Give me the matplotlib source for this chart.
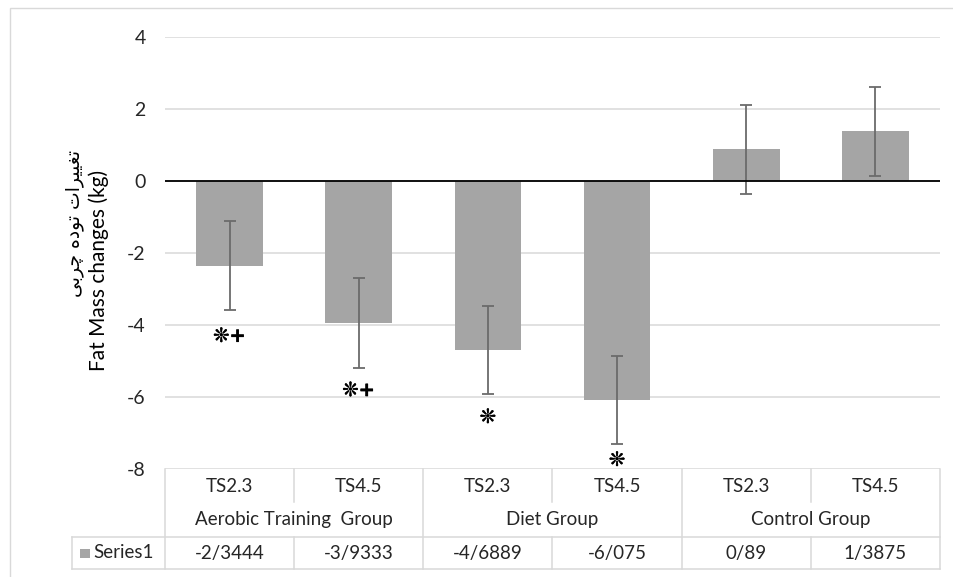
import matplotlib
matplotlib.use("Agg")
import matplotlib.pyplot as plt
import matplotlib.transforms as mtransforms
import matplotlib.patheffects as pe
from matplotlib.patches import Rectangle
from matplotlib.lines import Line2D

plt.rcParams['axes.unicode_minus'] = False
plt.rcParams['font.family'] = ['Lato', 'DejaVu Sans']

# ---- data ----
sub_labels = ["TS2.3", "TS4.5", "TS2.3", "TS4.5", "TS2.3", "TS4.5"]
group_labels = ["Aerobic Training  Group", "Diet Group", "Control Group"]
values = [-2.3444, -3.9333, -4.6889, -6.075, 0.89, 1.3875]
errors = [1.24, 1.24, 1.23, 1.23, 1.23, 1.23]
marks = ["\u274A+", "\u274A+", "\u274A", "\u274A", "", ""]
mark_offsets_px = [26, 23, 23, 16, 0, 0]
yticks = [-8, -6, -4, -2, 0, 2, 4]
series_name = "Series1"

# Persian axis title, shaped with presentation forms (logical order), then reversed for display
persian_logical = ("\uFE97\uFED0\uFEF4\uFEF4\uFEAE\uFE8D\uFE95" + " " +
                   "\uFE97\uFEEE\uFEA9\uFEE9" + " " +
                   "\uFB7C\uFEAE\uFE91\uFEF0")
persian_title = persian_logical[::-1]
english_title = "Fat Mass changes (kg)"

W, H = 954, 577
fig = plt.figure(figsize=(W / 100, H / 100), dpi=100)

def fx(px):
    return px / W

def fy(py):
    return 1 - py / H

# outer chart border
fig.patches.append(Rectangle((fx(10), fy(1000)), fx(1000), fy(8) - fy(1000),
                             transform=fig.transFigure, fill=False,
                             edgecolor='#D9D9D9', lw=1.0))

top_px, bot_px, left_px, right_px = 37.3, 469.3, 165, 940
ax = fig.add_axes([fx(left_px), fy(bot_px), fx(right_px - left_px), (bot_px - top_px) / H])
x = list(range(len(values)))
ax.bar(x, values, width=0.516, color='#A5A5A5', zorder=2)
ax.errorbar(x, values, yerr=errors, fmt='none', ecolor='#6B6B6B', elinewidth=1.3,
            capsize=4.5, capthick=1.3, zorder=3)
ax.set_xlim(-0.5, len(values) - 0.5)
ax.set_ylim(-8, 4)
ax.set_yticks(yticks)
ax.set_yticklabels([str(t) for t in yticks])
ax.set_xticks([])
for t in yticks:
    ax.axhline(t, color='#D9D9D9', lw=1.1, zorder=0)
ax.axhline(0, color='black', lw=1.3, zorder=4)
for s in ax.spines.values():
    s.set_visible(False)
ax.tick_params(axis='y', length=0, pad=14, labelsize=14, labelcolor='#262626')
for lab in ax.get_yticklabels():
    lab.set_fontfamily('Lato')

# significance marks
for xi, v, e, m, off in zip(x, values, errors, marks, mark_offsets_px):
    if m:
        ax.annotate(m, xy=(xi, v - e), xytext=(0, -off * 0.72), textcoords='offset points',
                    ha='center', va='center', fontsize=14, color='black',
                    family=['DejaVu Sans'], fontweight='bold',
                    path_effects=[pe.withStroke(linewidth=0.35, foreground='black')])

# ---- data table ----
trans = mtransforms.blended_transform_factory(ax.transData, fig.transFigure)
grid_c = '#D9D9D9'
row1_top, row1_bot, row3_top, row3_bot = 469.3, 502, 536.5, 569
bounds = [i - 0.5 for i in range(len(values) + 1)]
group_bounds = [-0.5, 1.5, 3.5, 5.5]
for b in bounds:
    if b in group_bounds:
        fig.add_artist(Line2D([b, b], [fy(row1_top), fy(row3_bot)], transform=trans, color=grid_c, lw=1.1))
    else:
        fig.add_artist(Line2D([b, b], [fy(row1_top), fy(row1_bot)], transform=trans, color=grid_c, lw=1.1))
        fig.add_artist(Line2D([b, b], [fy(row3_top), fy(row3_bot)], transform=trans, color=grid_c, lw=1.1))
for yy in (row3_top, row3_bot):
    fig.add_artist(Line2D([fx(72), fx(right_px)], [fy(yy), fy(yy)], transform=fig.transFigure,
                          color=grid_c, lw=1.1))
fig.add_artist(Line2D([fx(72), fx(72)], [fy(row3_top), fy(row3_bot)], transform=fig.transFigure,
                      color=grid_c, lw=1.1))

tkw = dict(fontsize=13.5, color='#262626', ha='center', va='center', family='Lato')
for xi, s in zip(x, sub_labels):
    fig.text(xi, fy(486), s, transform=trans, **tkw)
for gi, g in enumerate(group_labels):
    fig.text(2 * gi + 0.5, fy(519.5), g, transform=trans, **tkw)
for xi, v in zip(x, values):
    fig.text(xi, fy(553), str(v).replace('.', '/'), transform=trans, **tkw)

# legend key in table
fig.patches.append(Rectangle((fx(80), fy(558)), fx(9.5), 9.5 / H, transform=fig.transFigure,
                             facecolor='#A5A5A5', edgecolor='none'))
fig.text(fx(93), fy(553), series_name, fontsize=13.5, color='#262626', ha='left', va='center',
         family='Lato')

# axis titles
fig.text(fx(75), fy(223), persian_title, rotation=90, ha='center', va='center',
         fontsize=13.5, color='black', family=['DejaVu Sans'])
fig.text(fx(99), fy(270), english_title, rotation=90, ha='center', va='center',
         fontsize=15, color='black', family='Lato')

fig.savefig('out.png', dpi=100)
